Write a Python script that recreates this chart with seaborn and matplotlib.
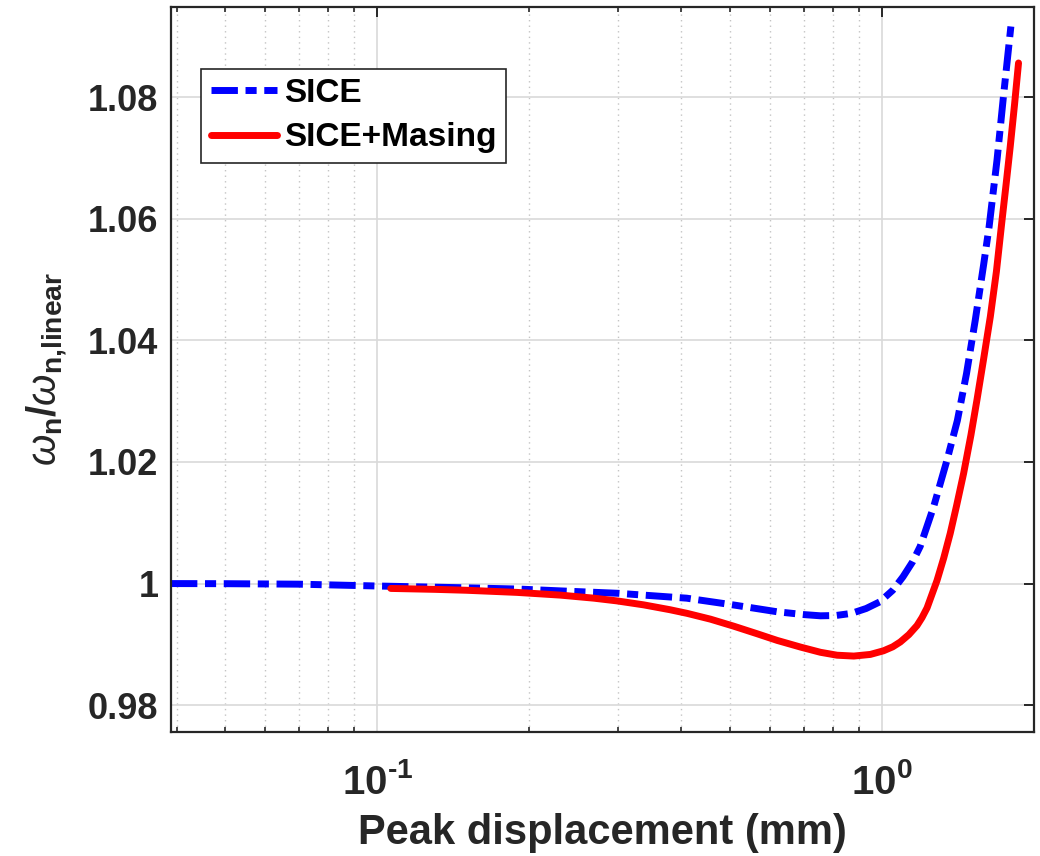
import matplotlib
matplotlib.use("Agg")
import matplotlib.pyplot as plt
import matplotlib.ticker as mticker
import seaborn as sns

# Peak displacement (mm) and normalised natural frequency for each model
sice_x = [0.039, 0.05, 0.07, 0.1, 0.15, 0.19, 0.23, 0.30, 0.41, 0.51, 0.62,
          0.70, 0.755, 0.81, 0.87, 0.93, 0.99, 1.05, 1.10, 1.15, 1.19, 1.265,
          1.345, 1.41, 1.47, 1.53, 1.59, 1.63, 1.69, 1.74, 1.80]
sice_y = [1.0, 0.99998, 0.9999, 0.9996, 0.9993, 0.9991, 0.9988, 0.9984,
          0.9976, 0.99646, 0.99536, 0.9949, 0.9947, 0.99475, 0.9951, 0.9959,
          0.9970, 0.9989, 1.0011, 1.0036, 1.0061, 1.0126, 1.0203, 1.0268,
          1.0345, 1.0433, 1.0525, 1.0587, 1.0697, 1.0801, 1.0916]

masing_x = [0.1063, 0.13, 0.15, 0.189, 0.2306, 0.2685, 0.2985, 0.337, 0.38,
            0.411, 0.457, 0.508, 0.5655, 0.62, 0.69, 0.755, 0.8145, 0.879,
            0.948, 1.007, 1.05, 1.087, 1.13, 1.173, 1.20, 1.228, 1.285, 1.325,
            1.365, 1.405, 1.451, 1.50, 1.542, 1.59, 1.639, 1.685, 1.728,
            1.762, 1.795, 1.83, 1.864]
masing_y = [0.9992, 0.99905, 0.9989, 0.99855, 0.9981, 0.9976, 0.99715,
            0.9965, 0.9957, 0.9951, 0.99415, 0.9930, 0.99175, 0.99065,
            0.98955, 0.9887, 0.98822, 0.98808, 0.98835, 0.98895, 0.9896,
            0.9904, 0.9916, 0.9931, 0.9944, 0.9960, 1.0005, 1.0042, 1.00826,
            1.0128, 1.01813, 1.0244, 1.0302, 1.0370, 1.0439, 1.0513, 1.0596,
            1.0658, 1.0719, 1.0787, 1.0856]

y_ticks = [0.98, 1.0, 1.02, 1.04, 1.06, 1.08]
y_tick_labels = ["0.98", "1", "1.02", "1.04", "1.06", "1.08"]
x_ticks = [0.1, 1.0]
x_tick_labels = [r"$\mathbf{10^{\text{-}1}}$", r"$\mathbf{10^{0}}$"]

sns.set_theme(style="white")
plt.rcParams["font.family"] = ["Liberation Sans", "DejaVu Sans"]
plt.rcParams["mathtext.fontset"] = "custom"
plt.rcParams["mathtext.rm"] = "Liberation Sans:bold"
plt.rcParams["mathtext.bf"] = "Liberation Sans:bold"
plt.rcParams["mathtext.it"] = "Liberation Sans:italic"
plt.rcParams["mathtext.sf"] = "Liberation Sans:bold"

dark = "#262626"

fig = plt.figure(figsize=(10.4, 8.56), dpi=100)
ax = fig.add_axes([0.1644, 0.1449, 0.9942 - 0.1644, 0.9918 - 0.1449])

sns.lineplot(x=sice_x, y=sice_y, ax=ax, color="#0000ff", lw=5,
             label="SICE", sort=False)
ax.lines[-1].set_dashes((3.8, 1.1, 1.6, 1.1))
ax.lines[-1].set_dash_capstyle("butt")
sns.lineplot(x=masing_x, y=masing_y, ax=ax, color="#ff0000", lw=5,
             label="SICE+Masing", sort=False)

ax.set_xscale("log")
ax.set_xlim(0.039, 2.0)
ax.set_ylim(0.9756, 1.0948)

ax.set_yticks(y_ticks)
ax.set_yticklabels(y_tick_labels, fontsize=26, fontweight="bold")
ax.xaxis.set_major_locator(mticker.FixedLocator(x_ticks))
ax.set_xticklabels(x_tick_labels, fontsize=29)
ax.xaxis.set_minor_locator(mticker.LogLocator(base=10, subs=range(2, 10), numticks=20))
ax.xaxis.set_minor_formatter(mticker.NullFormatter())

ax.grid(True, which="major", axis="both", color="#d9d9d9", lw=1.2, ls="-")
ax.grid(True, which="minor", axis="x", color="#c4c4c4", lw=1.0, ls=(0, (1, 3)))
ax.set_axisbelow(True)

for side in ["left", "right", "top", "bottom"]:
    ax.spines[side].set_visible(True)
    ax.spines[side].set_color(dark)
    ax.spines[side].set_linewidth(1.6)

ax.tick_params(axis="both", which="major", direction="in", length=7, width=1.4,
               colors=dark, top=True, right=True)
ax.tick_params(axis="x", which="minor", direction="in", length=3.5, width=1.2,
               color=dark, top=True, bottom=True)
ax.tick_params(axis="y", pad=9)
ax.tick_params(axis="x", pad=22)

ax.set_xlabel("Peak displacement (mm)", fontsize=30, fontweight="bold",
              color=dark, labelpad=8)
ax.set_ylabel(r"$\omega_{\mathbf{n}}\mathbf{/}\omega_{\mathbf{n{,}linear}}$",
              fontsize=29, color=dark, labelpad=14)

leg = ax.legend(loc="upper left", bbox_to_anchor=(0.035, 0.915),
                fontsize=24, frameon=True, fancybox=False, framealpha=1,
                edgecolor=dark, handlelength=2.0, handletextpad=0.2,
                borderpad=0.28, labelspacing=0.4, borderaxespad=0)
leg.get_frame().set_linewidth(1.2)
for t in leg.get_texts():
    t.set_fontweight("bold")
    t.set_color("black")

fig.savefig("out.png", dpi=100)
